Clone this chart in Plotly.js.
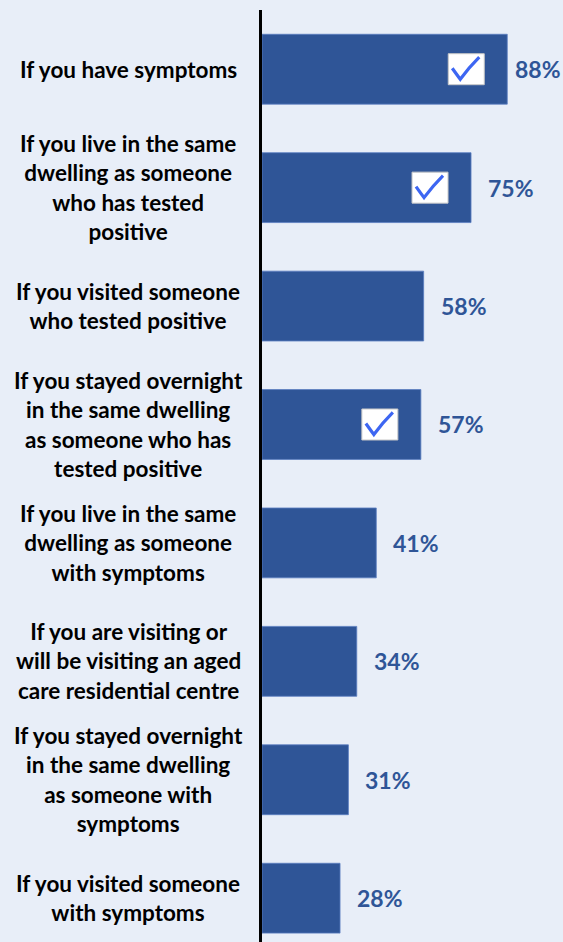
<!DOCTYPE html>
<html>
<head>
<meta charset="utf-8">
<script src="https://cdn.plot.ly/plotly-3.0.1.min.js"></script>
<style>html,body{margin:0;padding:0;background:#e8eef8;}</style>
</head>
<body>
<div id="chart" style="width:563px;height:942px;"></div>
<script>
var categories = [
  "If you have symptoms",
  "If you live in the same<br>dwelling as someone<br>who has tested<br>positive",
  "If you visited someone<br>who tested positive",
  "If you stayed overnight<br>in the same dwelling<br>as someone who has<br>tested positive",
  "If you live in the same<br>dwelling as someone<br>with symptoms",
  "If you are visiting or<br>will be visiting an aged<br>care residential centre",
  "If you stayed overnight<br>in the same dwelling<br>as someone with<br>symptoms",
  "If you visited someone<br>with symptoms"
];
var values = [88, 75, 58, 57, 41, 34, 31, 28];
var valueLabels = ["88%", "75%", "58%", "57%", "41%", "34%", "31%", "28%"];
var checked = [true, true, false, true, false, false, false, false];

var barColor = '#2f5597';
var idx = categories.map(function(_, i){ return i; });

var xMax = 108;
var plotW = 563 - 262;
var pxPerUnit = plotW / xMax;

var trace = {
  type: 'bar',
  orientation: 'h',
  y: idx,
  x: values,
  marker: {color: barColor, line: {color: '#5b7ec0', width: 0.8}},
  hoverinfo: 'none'
};

var fontFam = 'Lato, "Open Sans", sans-serif';
var annotations = categories.map(function(c, i){
  return {
    xref: 'paper', yref: 'y', x: -0.445, y: i,
    xanchor: 'center', yanchor: 'middle', align: 'center',
    text: c, showarrow: false,
    font: {family: fontFam, size: 22.5, weight: 'bold', color: '#000000'}
  };
});

// value labels, placed ~15px right of bar end but kept inside the canvas
values.forEach(function(v, i){
  var gapUnits = 15 / pxPerUnit;
  var labelUnits = 50 / pxPerUnit;
  var xPos = Math.min(v + gapUnits, xMax - labelUnits);
  annotations.push({
    xref: 'x', yref: 'y', x: xPos, y: i,
    xanchor: 'left', yanchor: 'middle',
    text: valueLabels[i], showarrow: false,
    font: {family: fontFam, size: 23, weight: 'bold', color: barColor}
  });
});

var shapes = [];
var off = 41;
values.forEach(function(v, i){
  if (!checked[i]) return;
  shapes.push({
    type: 'rect', xref: 'x', yref: 'y',
    xsizemode: 'pixel', ysizemode: 'pixel',
    xanchor: v, yanchor: i,
    x0: -off - 18, x1: -off + 18, y0: -15.5, y1: 15.5,
    fillcolor: '#ffffff', line: {color: '#c8c8c8', width: 1}
  });
  var p = 'M ' + (-off - 14) + ',' + (1) +
          ' Q ' + (-off - 9) + ',' + (-6) + ' ' + (-off - 6) + ',' + (-10) +
          ' Q ' + (-off + 3) + ',' + (2) + ' ' + (-off + 13) + ',' + (12);
  shapes.push({
    type: 'path', xref: 'x', yref: 'y',
    xsizemode: 'pixel', ysizemode: 'pixel',
    xanchor: v, yanchor: i,
    path: p,
    line: {color: '#3d66f2', width: 3.2}
  });
});

var layout = {
  width: 563, height: 942,
  margin: {l: 262, r: 0, t: 10, b: 0, pad: 0},
  paper_bgcolor: '#e8eef8',
  plot_bgcolor: '#e8eef8',
  showlegend: false,
  bargap: 0.41,
  xaxis: {range: [0, xMax], visible: false, fixedrange: true},
  yaxis: {
    range: [7.37, -0.5], type: 'linear',
    showline: true, linecolor: '#000000', linewidth: 3,
    showgrid: false, zeroline: false, showticklabels: false, ticks: ''
  },
  annotations: annotations,
  shapes: shapes
};

Plotly.newPlot('chart', [trace], layout, {staticPlot: true, displayModeBar: false});
</script>
</body>
</html>
